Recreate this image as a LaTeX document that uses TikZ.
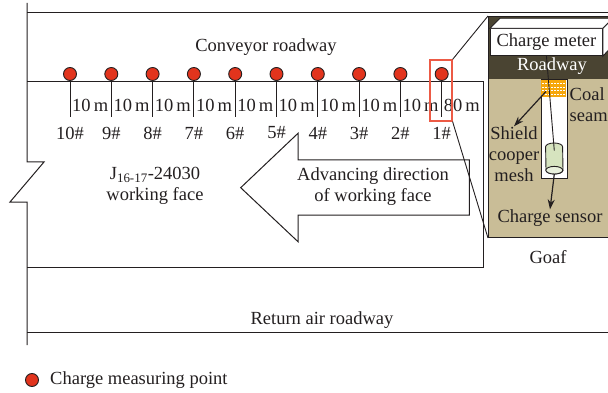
\documentclass[tikz,border=0pt]{standalone}
\usepackage{fontspec}
\setmainfont{Liberation Serif}
\usetikzlibrary{arrows.meta}
\definecolor{inkgray}{HTML}{231F20}
\definecolor{dotred}{HTML}{E2341D}
\definecolor{boxred}{HTML}{EC5A45}
\definecolor{goaftan}{HTML}{C9BD97}
\definecolor{roaddark}{HTML}{4A4432}
\definecolor{meshorange}{HTML}{F6A70C}
\definecolor{sensorgreen}{HTML}{D6E4BF}
\tikzstyle{point}=[circle,fill=dotred,draw=inkgray,line width=0.9pt,minimum size=13pt,inner sep=0pt]
\tikzstyle{wall}=[draw=inkgray,line width=1pt]
\tikzstyle{lbl}=[font=\fontsize{18.5}{21}\selectfont,inner sep=0pt,text=inkgray]
\tikzstyle{zoombox}=[draw=boxred,line width=1.2pt,inner sep=0pt]
\tikzstyle{ptr}=[draw=inkgray,line width=1.2pt,-{Stealth[length=10pt,width=7pt]}]

\begin{document}
\begin{tikzpicture}[x=1pt,y=-1pt]
    \useasboundingbox (0,0) rectangle (608,393);

    % Goaf panel with the roadway band on top
    \node[fill=goaftan,draw=inkgray,line width=1pt,anchor=north west,minimum width=130pt,minimum height=221pt,inner sep=0pt] (panel) at (488,16) {};
    \node[fill=roaddark,anchor=north west,minimum width=130pt,minimum height=62pt,inner sep=0pt] (band) at (488.5,16.5) {};

    % Borehole, shield mesh and sensor
    \node[fill=white,draw=inkgray,line width=0.9pt,anchor=north west,minimum width=26pt,minimum height=99pt,inner sep=0pt] (hole) at (540.7,79.3) {};
    \node[fill=meshorange,anchor=north west,minimum width=25pt,minimum height=17pt,inner sep=0pt] (mesh) at (541.2,79.8) {};
    \foreach \dy in {-5,-1.5,2,5.5}
        \draw[white,line width=0.5pt,dash pattern=on 2pt off 1pt] ([shift={(1,\dy)}]mesh.west) -- ([shift={(-1,\dy)}]mesh.east);

    \node[inner sep=0pt,minimum width=17pt,minimum height=23pt] (sensor) at (554.3,158.5) {};
    \filldraw[fill=sensorgreen,draw=inkgray,line width=0.9pt] (sensor.north west) arc[start angle=180,end angle=360,x radius=8.5,y radius=3.8] -- (sensor.south east) arc[start angle=0,end angle=180,x radius=8.5,y radius=3.8] -- cycle;
    \filldraw[fill=sensorgreen!55!white,draw=inkgray,line width=0.9pt] (sensor.south) ellipse[x radius=8.5,y radius=3.8];

    % Charge meter drawn as a box
    \node[fill=white,draw=inkgray,line width=0.9pt,anchor=north west,minimum width=112pt,minimum height=27pt,inner sep=0pt,font=\fontsize{18.5}{21}\selectfont,text=inkgray] (meter) at (490,28.3) {Charge meter};
    \filldraw[fill=white,draw=inkgray,line width=0.9pt] (meter.north west) -- ++(10,-10) -- ([shift={(10,-10)}]meter.north east) -- (meter.north east) -- cycle;
    \filldraw[fill=white,draw=inkgray,line width=0.9pt] (meter.north east) -- ++(10,-10) -- ++(0,27) -- (meter.south east) -- cycle;

    \draw[inkgray,line width=0.9pt] (meter.south) -- ([yshift=-3.8pt]sensor.north);
    \node[lbl,text=white] (road) at (552,66) {Roadway};

    \node[lbl,align=center] (shield) at (514,154) {Shield\\cooper\\mesh};
    \node[lbl,align=left,anchor=west] (coal) at (569.5,105) {Coal\\seam};
    \node[lbl] (senslabel) at (550,218) {Charge sensor};
    \node[lbl] (goaf) at (548,257) {Goaf};

    \draw[ptr] ([shift={(-8,3)}]mesh.center) -- (shield.north);
    \draw[ptr] ([yshift=-3.8pt]sensor.south) -- (senslabel.north);

    % Roadway outlines and the broken left edge
    \draw[wall] (27,3) -- (27,162) -- (44,162) -- (10,202) -- (27,202) -- (27,345);
    \draw[wall] (27,13) -- (608,13);
    \draw[wall] (27,81.5) -- (483,81.5) -- (483,267) -- (27,267);
    \draw[wall] (27,332) -- (608,332);

    % Measuring points 1# ... 10#
    \foreach \n in {1,...,10} {
        \pgfmathsetmacro\px{441.7-41.3*(\n-1)}
        \node[point] (p\n) at (\px,74) {};
        \draw[wall] (p\n.south) -- ++(0,36);
        \node[lbl] (t\n) at (\px,133) {\n\#};
    }
    \foreach \n in {2,...,10} {
        \pgfmathsetmacro\px{441.7-41.3*(\n-1)+2}
        \node[lbl,anchor=west] (d\n) at (\px,105) {10\,m};
    }
    \node[lbl,anchor=west] (d1) at (443.7,105) {80\,m};

    \node[zoombox,minimum width=22pt,minimum height=61pt] (zoom) at (441,90.5) {};

    % Advancing direction arrow
    \filldraw[fill=white,draw=inkgray,line width=1pt] (469.3,160) -- (298,160) -- (298,133.3) -- (240.7,187.7) -- (298,241.7) -- (298,215) -- (469.3,215) -- cycle;
    \node[lbl,align=center] (advance) at (373,187) {Advancing direction\\of working face};

    \node[lbl] (conveyor) at (266,47) {Conveyor roadway};
    \node[lbl,align=center] (face) at (155,186) {J\textsubscript{16-17}-24030\\working face};
    \node[lbl] (return) at (322,320) {Return air roadway};

    % Lines out to the enlarged view
    \draw[inkgray,line width=0.9pt] (zoom.north east) -- (panel.north west);
    \draw[inkgray,line width=0.9pt] (zoom.south east) -- (panel.south west);

    % Legend
    \node[point] (key) at (32,380) {};
    \node[lbl,anchor=west] (keytext) at (50,380) {Charge measuring point};
\end{tikzpicture}
\end{document}
